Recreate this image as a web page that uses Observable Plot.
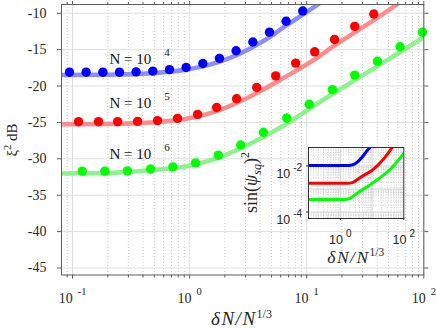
<!DOCTYPE html>
<html><head><meta charset="utf-8">
<script src="https://cdn.jsdelivr.net/npm/d3@7"></script>
<script src="https://cdn.jsdelivr.net/npm/@observablehq/plot@0.6"></script>
<style>
html,body{margin:0;padding:0;background:#fff;}
#wrap{position:relative;width:436px;height:328px;overflow:hidden;background:#fff;}
#wrap svg{position:absolute;}
</style></head><body><div id="wrap"></div>
<script>
// ---------- main chart data ----------
const xMajor = [0.1, 1, 10, 100];
const xTickExp = ["-1", "0", "1", "2"];
const xMinor = [0.09, 0.2, 0.3, 0.4, 0.5, 0.6, 0.7, 0.8, 0.9, 2, 3, 4, 5, 6, 7, 8, 9, 20, 30, 40, 50, 60, 70, 80, 90];
const yTicks = [-45, -40, -35, -30, -25, -20, -15, -10];
const yTickLabels = ["-45", "-40", "-35", "-30", "-25", "-20", "-15", "-10"];

const seriesNames = ["N=1e4", "N=1e5", "N=1e6"];
const dotColors = ["#0000ff", "#ff0000", "#00ff00"];
const lineColors = ["#8c8cff", "#ff8c8c", "#8cf28c"];

// simulation points
const ptsX1 = [0.0942, 0.1306, 0.1816, 0.2518, 0.349, 0.485, 0.673, 0.933, 1.297, 1.799, 2.495, 3.467, 4.81, 6.67, 9.25];
const ptsY1 = [-18.1, -18.1, -18.1, -18.1, -18.05, -17.95, -17.75, -17.45, -16.9, -16.2, -15.15, -13.95, -12.6, -11.1, -9.7];
const ptsX2 = [0.1125, 0.1667, 0.2427, 0.3597, 0.532, 0.789, 1.17, 1.70, 2.52, 3.74, 5.43, 8.05, 11.7, 17.3, 25.7, 37.4];
const ptsY2 = [-24.9, -24.9, -24.9, -24.85, -24.75, -24.45, -23.9, -22.95, -21.75, -20.2, -18.6, -16.85, -15.3, -13.6, -11.8, -10.1];
const ptsX3 = [0.121, 0.189, 0.294, 0.464, 0.719, 1.125, 1.758, 2.73, 4.27, 6.75, 10.5, 16.6, 25.7, 40.2, 62.7, 97.5];
const ptsY3 = [-31.7, -31.7, -31.65, -31.4, -31.1, -30.55, -29.5, -28.1, -26.35, -24.4, -22.5, -20.5, -18.5, -16.6, -14.6, -12.6];

// theory curves
const lineX1 = [0.0805, 0.2, 0.464, 0.893, 1.3, 1.726, 2.4, 3.32, 4.29, 6.6, 9.25, 12.7, 14];
const lineY1 = [-18.5, -18.45, -18.25, -17.8, -17.3, -16.75, -15.9, -14.8, -13.8, -11.75, -10.2, -8.7, -8.2];
const lineX2 = [0.0805, 0.2, 0.464, 0.893, 1.726, 3.32, 6.4, 12.33, 16.0, 31.6, 60, 66];
const lineY2 = [-25.25, -25.2, -25.0, -24.55, -23.4, -21.4, -18.85, -16.1, -14.8, -11.7, -8.7, -8.2];
const lineX3 = [0.0805, 0.2, 0.464, 0.893, 1.726, 3.32, 6.4, 12.33, 16.0, 40, 100];
const lineY3 = [-32.0, -31.95, -31.55, -31.1, -29.9, -27.9, -25.4, -22.4, -21.25, -17.3, -13.3];

// annotations
const nLabelText = ["N = 10", "N = 10", "N = 10"];
const nLabelExp = ["4", "5", "6"];
const nLabelX = [0.207, 0.207, 0.207];
const nLabelY = [-16.93, -22.95, -30.04];

// ---------- inset data ----------
const inXTicks = [1, 100];
const inXTickExp = ["0", "2"];
const inYTicks = [1e-4, 1e-2];
const inYTickExp = ["-4", "-2"];
const inXMajor = [1, 10];
const inXMinor = [0.2, 0.3, 0.4, 0.5, 0.6, 0.7, 0.8, 0.9, 2, 3, 4, 5, 6, 7, 8, 9, 20, 30, 40, 50, 60, 70, 80, 90];
const inYMajor = [1e-4, 1e-3, 1e-2];
const inYMinor = [6e-5, 7e-5, 8e-5, 9e-5, 2e-4, 3e-4, 4e-4, 5e-4, 6e-4, 7e-4, 8e-4, 9e-4,
  2e-3, 3e-3, 4e-3, 5e-3, 6e-3, 7e-3, 8e-3, 9e-3, 2e-2, 3e-2, 4e-2, 5e-2, 6e-2];
const inX1 = [0.1, 1.5, 2.14, 3.0, 4.37, 7.08, 8.5, 9.5];
const inY1 = [0.0105, 0.0105, 0.0107, 0.0128, 0.0204, 0.0468, 0.063, 0.08];
const inX2 = [0.1, 1.66, 2.4, 4.37, 11.5, 23.4, 34, 45];
const inY2 = [0.00178, 0.00178, 0.0019, 0.00324, 0.00759, 0.0204, 0.0398, 0.0708];
const inX3 = [0.1, 1.29, 2.0, 3.43, 11.5, 38.9, 100];
const inY3 = [0.000347, 0.000347, 0.00039, 0.00066, 0.002, 0.00759, 0.0355];

// ---------- build tables ----------
const pts = [
  ...ptsX1.map((x, i) => ({x, y: ptsY1[i], s: 0})),
  ...ptsX2.map((x, i) => ({x, y: ptsY2[i], s: 1})),
  ...ptsX3.map((x, i) => ({x, y: ptsY3[i], s: 2}))
];
const lines = [
  lineX1.map((x, i) => ({x, y: lineY1[i]})),
  lineX2.map((x, i) => ({x, y: lineY2[i]})),
  lineX3.map((x, i) => ({x, y: lineY3[i]}))
];
const inLines = [
  inX1.map((x, i) => ({x, y: inY1[i]})),
  inX2.map((x, i) => ({x, y: inY2[i]})),
  inX3.map((x, i) => ({x, y: inY3[i]}))
];

const TXT = "#262626";
const AX = "#5e5e5e";
const SERIF = "'Liberation Serif', 'Times New Roman', serif";
const SANS = "'Liberation Sans', Arial, sans-serif";

const main = Plot.plot({
  width: 436, height: 328,
  marginLeft: 61, marginRight: 12.7, marginTop: 4, marginBottom: 53.5,
  x: {type: "log", domain: [0.0805, 100]},
  y: {domain: [-45.96, -8.8]},
  style: {fontFamily: SERIF, fontSize: "14px", color: TXT, background: "white"},
  marks: [
    Plot.ruleX(xMinor, {stroke: "#c9c9c9", strokeDasharray: "1,2"}),
    Plot.ruleX(xMajor, {stroke: "#dedede"}),
    Plot.ruleY(yTicks, {stroke: "#dedede"}),
    ...lines.map((L, k) => Plot.line(L, {x: "x", y: "y", stroke: lineColors[k], strokeWidth: 4.5, curve: "monotone-x", clip: true})),
    ...[0, 1, 2].map(k => Plot.dot(pts.filter(d => d.s === k), {x: "x", y: "y", r: 4.7, fill: dotColors[k], stroke: "none"})),
    Plot.frame({stroke: AX}),
    Plot.axisX(xMajor, {anchor: "bottom", tickSize: 4, fill: "none", stroke: AX}),
    Plot.axisX(xMinor, {anchor: "bottom", tickSize: 3, fill: "none", stroke: AX}),
    Plot.axisX(xMajor, {anchor: "top", tickSize: 4, fill: "none", stroke: AX}),
    Plot.axisX(xMinor, {anchor: "top", tickSize: 3, fill: "none", stroke: AX}),
    Plot.axisY(yTicks, {anchor: "left", tickSize: 4, fill: "none", stroke: AX}),
    Plot.axisY(yTicks, {anchor: "right", tickSize: 4, fill: "none", stroke: AX}),
    Plot.axisX(xMajor, {anchor: "bottom", tickSize: 0, tickPadding: 18.3, fill: TXT, label: null,
      fontFamily: SERIF, fontSize: 14, tickFormat: d => xTickExp[xMajor.indexOf(d)]}),
    Plot.axisY(yTicks, {anchor: "left", tickSize: 0, tickPadding: 15, fill: TXT, label: null,
      fontFamily: SERIF, fontSize: 14, tickFormat: d => yTickLabels[yTicks.indexOf(d)]}),
    Plot.text(nLabelText, {x: (d, i) => nLabelX[i], y: (d, i) => nLabelY[i], text: d => d,
      textAnchor: "start", lineAnchor: "bottom", fontSize: 15, fontFamily: SERIF, fill: "#111"})
  ]
});
main.style.left = "0px"; main.style.top = "0px";

const inset = Plot.plot({
  width: 196, height: 130,
  marginLeft: 68, marginRight: 32.7, marginTop: 7, marginBottom: 52,
  x: {type: "log", domain: [0.1, 100]},
  y: {type: "log", domain: [5.25e-5, 0.0637]},
  style: {fontFamily: SANS, fontSize: "12.5px", color: TXT, background: "transparent", overflow: "visible"},
  marks: [
    Plot.frame({fill: "white", stroke: "none"}),
    Plot.ruleX(inXMinor, {stroke: "#c4c4c4", strokeDasharray: "1,1.5", strokeWidth: 0.8}),
    Plot.ruleY(inYMinor, {stroke: "#c4c4c4", strokeDasharray: "1,1.5", strokeWidth: 0.8}),
    Plot.ruleX(inXMajor, {stroke: "#d0d0d0"}),
    Plot.ruleY(inYMajor, {stroke: "#d0d0d0"}),
    ...inLines.map((L, k) => Plot.line(L, {x: "x", y: "y", stroke: dotColors[k], strokeWidth: 3, curve: "monotone-x", clip: true})),
    Plot.frame({stroke: "#333"}),
    Plot.axisX(inXTicks, {anchor: "bottom", tickSize: 2, fill: "none", stroke: "#333"}),
    Plot.axisY(inYTicks, {anchor: "left", tickSize: 2, fill: "none", stroke: "#333"}),
    Plot.axisX(inXTicks, {anchor: "bottom", tickSize: 0, tickPadding: 16.6, fill: TXT, label: null,
      fontFamily: SANS, fontSize: 12.5, tickFormat: d => inXTickExp[inXTicks.indexOf(d)]}),
    Plot.axisY(inYTicks, {anchor: "left", tickSize: 0, tickPadding: 6.3, fill: TXT, label: null,
      fontFamily: SANS, fontSize: 12.5, tickFormat: d => inYTickExp[inYTicks.indexOf(d)]})
  ]
});
inset.style.left = "240px"; inset.style.top = "140px";

const wrap = document.getElementById("wrap");
wrap.appendChild(main);
wrap.appendChild(inset);

// ---------- superscripts on tick labels ----------
function supTicks(svg, sel, supSize, dx, dy, baseDy) {
  d3.select(svg).selectAll(sel).each(function() {
    const exp = this.textContent;
    const t = d3.select(this);
    if (baseDy) t.attr("dy", baseDy);
    t.text("10");
    t.append("tspan").attr("dx", dx).attr("dy", dy).attr("font-size", supSize).text(exp);
  });
}
supTicks(main, 'g[aria-label="x-axis tick label"] text', 10.5, 5, -8);
supTicks(inset, 'g[aria-label="x-axis tick label"] text', 10, 3, -7);
supTicks(inset, 'g[aria-label="y-axis tick label"] text', 10, 3, -7, "0.62em");

// N = 10^k labels
let ni = 0;
d3.select(main).selectAll('g[aria-label="text"] text').each(function() {
  if (this.textContent === "N = 10") {
    d3.select(this).append("tspan").attr("dx", 13).attr("dy", -8).attr("font-size", 11).text(nLabelExp[ni++]);
  }
});

// ---------- axis titles ----------
const ms = d3.select(main);
const yl = ms.append("text").attr("transform", "translate(16.5,140) rotate(-90)")
  .attr("text-anchor", "middle").attr("font-size", 15).attr("fill", TXT).attr("font-family", SERIF);
yl.append("tspan").text("ξ");
yl.append("tspan").attr("dy", -6).attr("font-size", 10.5).text("2");
yl.append("tspan").attr("dy", 6).text(" dB");

const xl = ms.append("text").attr("x", 241.5).attr("y", 325)
  .attr("text-anchor", "middle").attr("font-size", 19).attr("fill", TXT).attr("font-family", SERIF);
xl.append("tspan").attr("font-style", "italic").attr("letter-spacing", 1.5).text("δN/N");
xl.append("tspan").attr("dy", -7).attr("font-size", 12).text("1/3");

const is = d3.select(inset);
const ixl = is.append("text").attr("x", 115.8).attr("y", 122.5)
  .attr("text-anchor", "middle").attr("font-size", 17.5).attr("fill", TXT)
  .attr("font-family", SERIF);
ixl.append("tspan").attr("font-style", "italic").attr("letter-spacing", 1.5).text("δN/N");
ixl.append("tspan").attr("dy", -7).attr("font-size", 11.5).text("1/3");

const iyl = is.append("text").attr("transform", "translate(17,42.5) rotate(-90)")
  .attr("text-anchor", "middle").attr("font-size", 18).attr("fill", TXT)
  .attr("font-family", SERIF);
iyl.append("tspan").text("sin(");
iyl.append("tspan").attr("font-style", "italic").text("ψ");
iyl.append("tspan").attr("dy", 4).attr("font-size", 12).attr("font-style", "italic").text("sq");
iyl.append("tspan").attr("dy", -4).text(")");
iyl.append("tspan").attr("dy", -8).attr("font-size", 12).text("2");
</script></body></html>
